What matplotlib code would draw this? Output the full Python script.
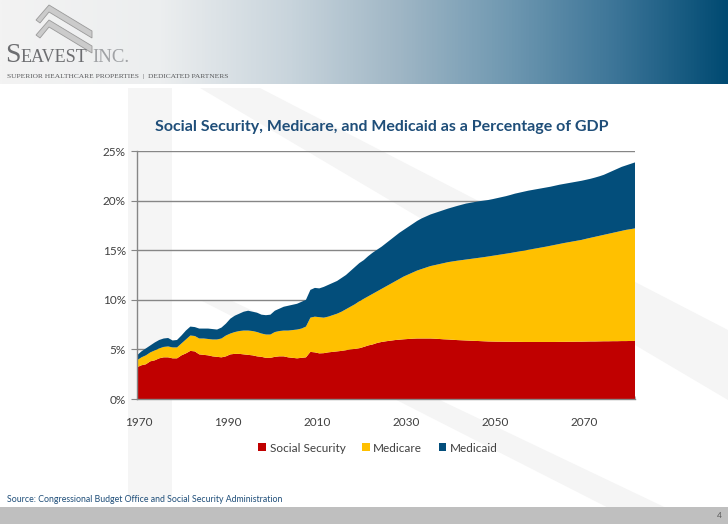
import numpy as np
import matplotlib
matplotlib.use("Agg")
import matplotlib.pyplot as plt
from matplotlib.patches import Patch, Polygon, Rectangle
from matplotlib.colors import LinearSegmentedColormap

# ---------------- data (% of GDP), 1970-2082 ----------------
social_security = [
    3.2, 3.4, 3.5, 3.8, 3.9, 4.1, 4.2, 4.2, 4.1, 4.1,
    4.4, 4.6, 4.85, 4.8, 4.5, 4.45, 4.4, 4.3, 4.25, 4.2,
    4.3, 4.5, 4.55, 4.55, 4.5, 4.45, 4.4, 4.3, 4.25, 4.15,
    4.15, 4.25, 4.3, 4.3, 4.2, 4.15, 4.1, 4.15, 4.2, 4.75,
    4.7, 4.6, 4.62, 4.7, 4.75, 4.8, 4.85, 4.92, 5.0, 5.05,
    5.12, 5.25, 5.4, 5.5, 5.65, 5.75, 5.82, 5.88, 5.94, 5.98,
    6.02, 6.05, 6.08, 6.1, 6.1, 6.1, 6.1, 6.08, 6.05, 6.02,
    6.0, 5.97, 5.94, 5.92, 5.9, 5.88, 5.86, 5.84, 5.82, 5.8,
    5.79, 5.78, 5.78, 5.77, 5.77, 5.76, 5.76, 5.75, 5.75, 5.75,
    5.75, 5.75, 5.75, 5.75, 5.75, 5.76, 5.76, 5.77, 5.77, 5.78,
    5.78, 5.79, 5.8, 5.8, 5.81, 5.82, 5.82, 5.83, 5.83, 5.84,
    5.84, 5.85, 5.85,
]
medicare = [
    0.7, 0.8, 0.9, 0.9, 1.0, 1.0, 1.05, 1.1, 1.1, 1.1,
    1.2, 1.4, 1.55, 1.55, 1.6, 1.65, 1.65, 1.7, 1.75, 1.9,
    2.1, 2.1, 2.2, 2.3, 2.4, 2.45, 2.45, 2.45, 2.35, 2.35,
    2.35, 2.5, 2.55, 2.6, 2.7, 2.8, 2.9, 2.95, 3.1, 3.45,
    3.6, 3.65, 3.58, 3.6, 3.7, 3.8, 3.95, 4.13, 4.3, 4.5,
    4.73, 4.85, 4.95, 5.1, 5.2, 5.35, 5.53, 5.72, 5.91, 6.12,
    6.33, 6.5, 6.67, 6.85, 7.0, 7.15, 7.3, 7.42, 7.55, 7.68,
    7.8, 7.9, 8.0, 8.08, 8.16, 8.24, 8.32, 8.4, 8.48, 8.57,
    8.65, 8.73, 8.8, 8.88, 8.95, 9.04, 9.12, 9.21, 9.29, 9.37,
    9.45, 9.53, 9.61, 9.7, 9.79, 9.87, 9.96, 10.03, 10.11, 10.18,
    10.26, 10.36, 10.45, 10.55, 10.64, 10.73, 10.83, 10.92, 11.02, 11.11,
    11.21, 11.27, 11.35,
]
medicaid = [
    0.5, 0.6, 0.7, 0.7, 0.8, 0.85, 0.85, 0.85, 0.7, 0.75,
    0.8, 0.9, 0.9, 0.9, 1.0, 1.0, 1.05, 1.05, 1.0, 1.1,
    1.2, 1.5, 1.65, 1.75, 1.9, 2.0, 1.95, 1.95, 1.9, 1.95,
    2.0, 2.15, 2.25, 2.4, 2.5, 2.55, 2.6, 2.7, 2.7, 2.8,
    2.9, 2.9, 3.1, 3.2, 3.25, 3.3, 3.4, 3.45, 3.6, 3.75,
    3.85, 3.9, 4.05, 4.15, 4.2, 4.25, 4.35, 4.45, 4.55, 4.65,
    4.7, 4.8, 4.9, 5.0, 5.1, 5.15, 5.2, 5.25, 5.3, 5.35,
    5.4, 5.46, 5.52, 5.58, 5.64, 5.66, 5.68, 5.7, 5.7, 5.69,
    5.71, 5.74, 5.77, 5.8, 5.85, 5.9, 5.92, 5.94, 5.96, 5.96,
    5.96, 5.96, 5.96, 5.95, 5.96, 5.97, 5.96, 5.96, 5.96, 5.96,
    5.96, 5.95, 5.95, 5.97, 6.0, 6.05, 6.15, 6.25, 6.35, 6.45,
    6.5, 6.58, 6.65,
]
start_year = 1970
series_names = ["Social Security", "Medicare", "Medicaid"]
series_colors = ["#c00000", "#ffc000", "#034e7b"]
x_tick_years = [1970, 1990, 2010, 2030, 2050, 2070]
y_ticks = [0, 5, 10, 15, 20, 25]
title = "Social Security, Medicare, and Medicaid as a Percentage of GDP"
source = "Source: Congressional Budget Office and Social Security Administration"

W, H = 728, 524
FONT = ["Lato", "DejaVu Sans"]
SERIF = ["Liberation Serif", "DejaVu Serif"]
plt.rcParams["font.family"] = FONT

fig = plt.figure(figsize=(W / 100, H / 100), dpi=100)
fig.patch.set_facecolor("white")


def fx(x):
    return x / W


def fy(y):
    return 1 - y / H


# ---------------- header gradient ----------------
hdr = fig.add_axes([0, fy(84), 1, 84 / H], zorder=0)
cmap = LinearSegmentedColormap.from_list(
    "hdr",
    [(0.0, "#f3f3f3"), (0.22, "#eceeef"), (0.4, "#c8d4dc"), (0.55, "#9fb6c5"),
     (0.7, "#6f98b1"), (0.85, "#3b7497"), (1.0, "#004a72")])
grad = np.linspace(0, 1, 512)[None, :]
hdr.imshow(grad, aspect="auto", cmap=cmap, extent=[0, 1, 0, 1])
hdr.set_axis_off()

# ---------------- background watermark (faint) ----------------
bg = fig.add_axes([0, 0, 1, 1], zorder=-1)
bg.set_xlim(0, W)
bg.set_ylim(H, 0)
bg.set_axis_off()
wm = "#f5f5f5"
bg.add_patch(Polygon([(128, 88), (172, 88), (172, 500), (128, 500)], closed=True, color=wm, lw=0))
bg.add_patch(Polygon([(200, 88), (260, 88), (728, 330), (728, 400)], closed=True, color=wm, lw=0))
bg.add_patch(Polygon([(200, 300), (230, 300), (700, 524), (640, 524)], closed=True, color=wm, lw=0))

# ---------------- logo ----------------
logo = fig.add_axes([0, 0, 1, 1], zorder=1)
logo.set_xlim(0, W)
logo.set_ylim(H, 0)
logo.set_axis_off()
for dy in (0, 15):
    logo.add_patch(Polygon([(36, 20 + dy), (49, 5 + dy), (92, 31 + dy), (92, 38 + dy),
                            (49, 12 + dy), (40, 23 + dy)],
                           closed=True, facecolor="#cbcbcb", edgecolor="#9a9a9a", lw=0.6))

renderer = fig.canvas.get_renderer()
scale = W / fig.bbox.width

t_s = logo.text(5, 62, "S", fontsize=20, family=SERIF, color="#6d6e71", va="baseline")
x1 = t_s.get_window_extent(renderer).x1 * scale
t_e = logo.text(x1 + 0.5, 62, "EAVEST", fontsize=13, family=SERIF, color="#6d6e71", va="baseline")
x2 = t_e.get_window_extent(renderer).x1 * scale
logo.text(x2 + 5, 62, "INC.", fontsize=13.5, family=SERIF, color="#a0a2a5", va="baseline")
logo.text(7, 78, "SUPERIOR HEALTHCARE PROPERTIES  |  DEDICATED PARTNERS",
          fontsize=5.4, family=SERIF, color="#58595b", va="baseline")

# ---------------- footer ----------------
logo.add_patch(Rectangle((0, 507), W, 17, color="#bfbfbf", lw=0))
logo.text(7, 500, source, fontsize=6.3, color="#1f4e79", va="center", ha="left")
logo.text(719, 515, "4", fontsize=6, color="#595959", va="center", ha="center")

# ---------------- chart ----------------
ax = fig.add_axes([fx(137), fy(399), fx(635) - fx(137), fy(151) - fy(399)], zorder=2)
ax.patch.set_alpha(0)
years = np.arange(start_year, start_year + len(social_security))
ax.stackplot(years, social_security, medicare, medicaid,
             colors=series_colors, labels=series_names, lw=0, zorder=2)
ax.set_xlim(years[0], years[-1])
ax.set_ylim(0, 25)
ax.set_yticks(y_ticks)
ax.set_yticklabels([f"{v}%" for v in y_ticks])
ax.yaxis.grid(True, color="#868686", lw=1.0, zorder=0)
ax.set_axisbelow(True)
ax.set_xticks([y + 0.5 for y in x_tick_years])
ax.set_xticklabels([str(y) for y in x_tick_years])
ax.set_xticks(years, minor=True)
ax.tick_params(axis="x", which="major", length=0, pad=13, labelsize=8.5, labelcolor="#404040")
ax.tick_params(axis="x", which="minor", length=2.5, direction="in", color="#a6a6a6", width=0.6)
ax.tick_params(axis="y", which="major", length=4, color="#868686", pad=4, labelsize=8.5, labelcolor="#404040")
for s in ["top", "right"]:
    ax.spines[s].set_visible(False)
for s in ["left", "bottom"]:
    ax.spines[s].set_color("#868686")
    ax.spines[s].set_linewidth(1.0)

fig.text(fx(382), fy(127), title, ha="center", va="center", fontsize=11.5,
         fontweight="bold", color="#1f4e79")

handles = [Patch(facecolor=c, edgecolor="none") for c in series_colors]
fig.legend(handles, series_names, loc="center", bbox_to_anchor=(fx(378), fy(448)),
           ncol=3, frameon=False, fontsize=8.5, handlelength=0.65, handleheight=0.65,
           handletextpad=0.3, columnspacing=1.4, labelcolor="#404040")

fig.savefig("out.png", dpi=100)
